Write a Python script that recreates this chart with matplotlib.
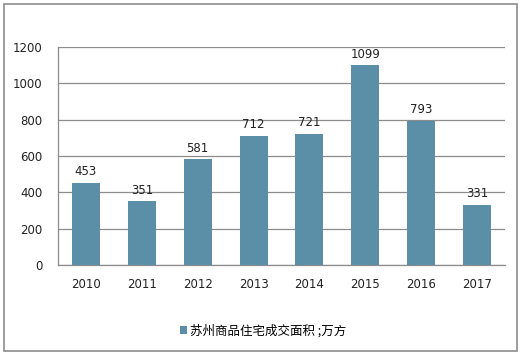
import matplotlib
matplotlib.use("Agg")
import matplotlib.pyplot as plt
from matplotlib.patches import Rectangle

plt.rcParams['font.family'] = ['DejaVu Sans', 'Noto Sans CJK SC']

years = ["2010", "2011", "2012", "2013", "2014", "2015", "2016", "2017"]
area = [453, 351, 581, 712, 721, 1099, 793, 331]
series_name = "苏州商品住宅成交面积 ;万方"

bar_color = "#5b8fa8"
grid_color = "#8c8c8c"

fig = plt.figure(figsize=(5.21, 3.54), dpi=100)
ax = fig.add_axes([58/521, 1 - 265/354, (505 - 58)/521, (265 - 47)/354])

x = range(len(years))
bars = ax.bar(x, area, width=0.5, color=bar_color, label=series_name, zorder=3)
for xi, v in zip(x, area):
    ax.text(xi, v + 25, str(v), ha="center", va="bottom", fontsize=8.5, color="#222222")

ax.set_xlim(-0.5, len(years) - 0.5)
ax.set_ylim(0, 1200)
ax.set_yticks(range(0, 1201, 200))
ax.set_xticks(list(x))
ax.set_xticklabels(years)
ax.tick_params(axis="both", length=0, labelsize=8.5, colors="#222222")
ax.tick_params(axis="y", pad=11)
ax.tick_params(axis="x", pad=9)
ax.yaxis.grid(True, color=grid_color, linewidth=0.9, zorder=0)
for s in ["top", "right"]:
    ax.spines[s].set_visible(False)
for s in ["left", "bottom"]:
    ax.spines[s].set_color(grid_color)
    ax.spines[s].set_linewidth(0.9)

leg = fig.legend(handles=[bars], labels=[series_name], loc="center",
                 bbox_to_anchor=(263/521, 1 - 331/354), frameon=False,
                 handlelength=0.6, handleheight=0.6, handletextpad=0.2,
                 prop={"family": ["Noto Sans CJK SC", "DejaVu Sans"], "size": 9})

fig.patches.append(Rectangle((4/521, 3/354), 513/521, 347/354, transform=fig.transFigure,
                             fill=False, edgecolor="#8c8c8c", linewidth=1.2))

fig.savefig("out.png", dpi=100)
